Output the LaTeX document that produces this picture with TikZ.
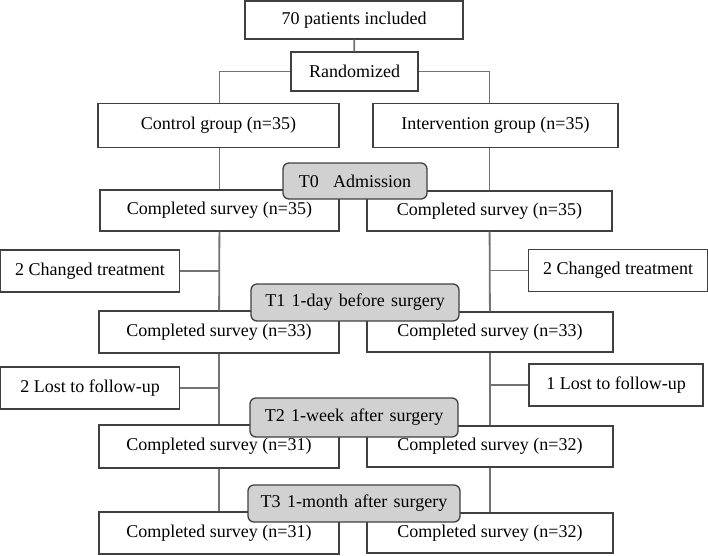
\documentclass[tikz,border=0pt]{standalone}
\usepackage{fontspec}
\setmainfont{Liberation Serif}
\begin{document}
\begin{tikzpicture}[x=1pt,y=-1pt,
  box/.style={draw=black!75,line width=1.3pt,fill=white,inner sep=0pt,font=\fontsize{18}{20}\selectfont},
  tbox/.style={draw=black!75,line width=1.3pt,fill=black!18,rounded corners=6pt,inner sep=0pt,font=\fontsize{18}{20}\selectfont},
  conn/.style={draw=black!55,line width=1.8pt}]
\useasboundingbox (0,0) rectangle (708,555);
\node[box,minimum width=218pt,minimum height=38pt] (top) at (354,20) {70 patients included};
\node[box,minimum width=127pt,minimum height=39pt] (rand) at (354.5,71.5) {Randomized};
\node[box,minimum width=241pt,minimum height=44pt] (ctrl) at (218.5,125.5) {Control group (n=35)};
\node[box,minimum width=245pt,minimum height=44pt] (intv) at (495.5,125.5) {Intervention group (n=35)};
\node[box,minimum width=239pt,minimum height=41pt] (cL0) at (219.5,210.5) {Completed survey (n=35)};
\node[box,minimum width=245pt,minimum height=40pt] (cR0) at (489.5,211) {Completed survey (n=35)};
\node[box,minimum width=179pt,minimum height=42pt] (chL) at (90,271) {2 Changed treatment};
\node[box,minimum width=179pt,minimum height=42pt] (chR) at (618,270.5) {2 Changed treatment};
\node[box,minimum width=240pt,minimum height=42pt] (cL1) at (219,332) {Completed survey (n=33)};
\node[box,minimum width=246pt,minimum height=40pt] (cR1) at (490,332) {Completed survey (n=33)};
\node[box,minimum width=179pt,minimum height=42pt] (lostL) at (90,388) {2 Lost to follow-up};
\node[box,minimum width=174pt,minimum height=42pt] (lostR) at (616,385) {1 Lost to follow-up};
\node[box,minimum width=240pt,minimum height=43pt] (cL2) at (219,446.5) {Completed survey (n=31)};
\node[box,minimum width=246pt,minimum height=41pt] (cR2) at (490,446.5) {Completed survey (n=32)};
\node[box,minimum width=240pt,minimum height=42pt] (cL3) at (219,533) {Completed survey (n=31)};
\node[box,minimum width=246pt,minimum height=40pt] (cR3) at (490,533) {Completed survey (n=32)};
% connectors
\draw[conn] (top) -- (rand);
\draw[conn] (rand.west) -| (ctrl.north -| cL0.north);
\draw[conn] (rand.east) -| (intv.north -| cR0.north);
\draw[conn] (ctrl.south -| cL0.north) -- (cL0.north);
\draw[conn] (intv.south -| cR0.north) -- (cR0.north);
\draw[conn] (cL0) -- (cL1);
\draw[conn] (cR0) -- (cR1);
\draw[conn] (chL.east) -- (chL.east -| cL0.south);
\draw[conn] (chR.west) -- (chR.west -| cR0.south);
\draw[conn] (cL1) -- (cL2);
\draw[conn] (cR1) -- (cR2);
\draw[conn] (lostL.east) -- (lostL.east -| cL1.south);
\draw[conn] (lostR.west) -- (lostR.west -| cR1.south);
\draw[conn] (cL2) -- (cL3);
\draw[conn] (cR2) -- (cR3);
% time points
\node[tbox,minimum width=144pt,minimum height=36pt] (t0) at (355,181) {T0\hspace{0.8em}Admission};
\node[tbox,minimum width=208pt,minimum height=37pt] (t1) at (355,302.5) {T1\hspace{0.35em}1-day\hspace{0.35em}before\hspace{0.35em}surgery};
\node[tbox,minimum width=208pt,minimum height=39pt] (t2) at (354,417.5) {T2\hspace{0.35em}1-week\hspace{0.35em}after\hspace{0.35em}surgery};
\node[tbox,minimum width=212pt,minimum height=37pt] (t3) at (354,503.5) {T3\hspace{0.35em}1-month\hspace{0.35em}after\hspace{0.35em}surgery};
\end{tikzpicture}
\end{document}
